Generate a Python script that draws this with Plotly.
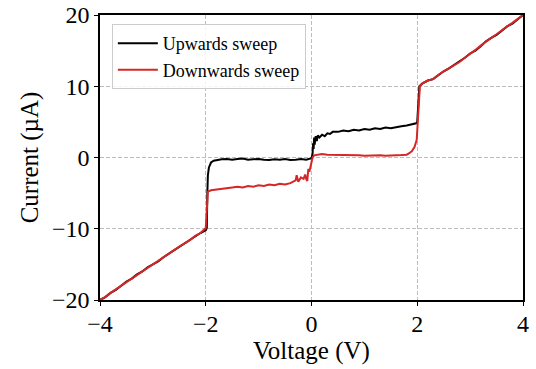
import plotly.graph_objects as go

# Upwards sweep (black)
up_v = [-4.0, -3.9, -3.8, -3.7, -3.6, -3.5, -3.4, -3.3, -3.2, -3.1, -3.0, -2.9, -2.8, -2.7, -2.6,
        -2.5, -2.4, -2.3, -2.2, -2.1, -2.0, -1.98, -1.97, -1.96, -1.94, -1.9, -1.85, -1.8, -1.7,
        -1.6, -1.5, -1.4, -1.3, -1.2, -1.1, -1.0, -0.9, -0.8, -0.7, -0.6, -0.5, -0.4, -0.3, -0.2,
        -0.1, -0.05, 0.0, 0.02, 0.03, 0.04, 0.05, 0.06, 0.08, 0.1, 0.12, 0.15, 0.2, 0.25, 0.3, 0.35,
        0.4, 0.5, 0.6, 0.7, 0.8, 0.9, 1.0, 1.1, 1.2, 1.3, 1.4, 1.5, 1.6, 1.7, 1.8, 1.9, 1.98, 2.0,
        2.02, 2.04, 2.1, 2.2, 2.3, 2.4, 2.5, 2.6, 2.7, 2.8, 2.9, 3.0, 3.1, 3.2, 3.3, 3.4, 3.5, 3.6,
        3.7, 3.8, 3.9, 4.0]
up_i = [-20.0, -19.6, -19.0, -18.6, -18.0, -17.4, -17.0, -16.4, -16.0, -15.4, -15.0, -14.6, -14.0, -13.5, -13.1,
        -12.5, -12.1, -11.6, -11.0, -10.6, -10.2, -9.9, -5.0, -2.5, -1.4, -0.7, -0.45, -0.35, -0.25,
        -0.2, -0.3, -0.2, -0.15, -0.3, -0.25, -0.2, -0.3, -0.35, -0.25, -0.3, -0.2, -0.35, -0.3, -0.2,
        -0.3, -0.2, -0.1, 0.5, 2.0, 1.2, 2.8, 1.8, 3.0, 2.3, 3.1, 2.8, 3.2, 3.0, 3.4, 3.3,
        3.6, 3.6, 3.8, 3.7, 3.9, 3.8, 4.0, 3.9, 4.1, 4.0, 4.2, 4.1, 4.3, 4.4, 4.5, 4.7, 4.8, 5.0,
        8.0, 10.0, 10.4, 10.8, 11.0, 11.6, 12.1, 12.5, 13.0, 13.4, 14.0, 14.6, 15.0, 15.6, 16.3, 16.8, 17.2, 17.8,
        18.4, 18.8, 19.4, 20.0]

# Downwards sweep (red)
down_v = [4.0, 3.9, 3.8, 3.7, 3.6, 3.5, 3.4, 3.3, 3.2, 3.1, 3.0, 2.9, 2.8, 2.7, 2.6, 2.5, 2.4, 2.3,
          2.2, 2.1, 2.05, 2.02, 1.99, 1.95, 1.9, 1.85, 1.8, 1.7, 1.6, 1.5, 1.4, 1.3, 1.2, 1.1, 1.0,
          0.9, 0.8, 0.7, 0.6, 0.5, 0.4, 0.3, 0.2, 0.15, 0.1, 0.05, 0.02, 0.0, -0.02, -0.04, -0.06,
          -0.08, -0.1, -0.12, -0.15, -0.2, -0.25, -0.28, -0.3, -0.35, -0.4, -0.5, -0.6, -0.7, -0.8,
          -0.9, -1.0, -1.1, -1.2, -1.3, -1.4, -1.5, -1.6, -1.7, -1.8, -1.9, -1.96, -1.98, -2.0, -2.1,
          -2.2, -2.3, -2.4, -2.5, -2.6, -2.7, -2.8, -2.9, -3.0, -3.1, -3.2, -3.3, -3.4, -3.5, -3.6,
          -3.7, -3.8, -3.9, -4.0]
down_i = [20.0, 19.4, 18.9, 18.4, 17.8, 17.3, 16.8, 16.3, 15.7, 15.1, 14.6, 14.0, 13.4, 13.0, 12.5, 12.1, 11.6, 11.0,
          10.8, 10.4, 10.0, 6.0, 2.5, 1.5, 0.9, 0.6, 0.4, 0.35, 0.3, 0.3, 0.25, 0.3, 0.25, 0.3, 0.25,
          0.3, 0.3, 0.35, 0.3, 0.4, 0.35, 0.4, 0.5, 0.45, 0.4, 0.3, 0.0, -0.8, -1.5, -2.0, -1.6,
          -3.3, -3.0, -2.4, -3.0, -2.8, -3.4, -2.5, -3.2, -3.4, -3.6, -3.8, -3.7, -3.9, -3.8,
          -4.0, -3.9, -4.1, -4.0, -4.2, -4.1, -4.2, -4.3, -4.3, -4.5, -4.6, -4.8, -7.0, -9.9, -10.6,
          -11.0, -11.6, -12.0, -12.5, -13.0, -13.5, -14.0, -14.5, -15.0, -15.4, -15.9, -16.4, -17.0, -17.4, -18.0,
          -18.5, -19.0, -19.6, -20.0]

x_ticks = [-4, -2, 0, 2, 4]
y_ticks = [-20, -10, 0, 10, 20]

FONT = "Liberation Serif, serif"

fig = go.Figure()
fig.add_trace(go.Scatter(x=up_v, y=up_i, mode="lines", name="Upwards sweep",
                         line=dict(color="black", width=2)))
fig.add_trace(go.Scatter(x=down_v, y=down_i, mode="lines", name="Downwards sweep",
                         line=dict(color="#d62728", width=2)))

axis_common = dict(
    showline=True, linecolor="black", linewidth=1.5, mirror=True,
    ticks="outside", ticklen=4, tickwidth=1.2, tickcolor="black",
    showgrid=True, gridcolor="#bdbdbd", griddash="4px,2px", gridwidth=1,
    zeroline=False, automargin=False,
    tickfont=dict(family=FONT, size=24, color="black"),
)

fig.update_layout(
    width=536, height=369,
    margin=dict(l=100, r=13, t=15, b=69),
    paper_bgcolor="white", plot_bgcolor="white",
    font=dict(family=FONT, color="black"),
    xaxis=dict(range=[-4, 4], tickvals=x_ticks, ticklabelstandoff=-3, **axis_common),
    yaxis=dict(range=[-20, 20], tickvals=y_ticks,
               title=dict(text="Current (µA)", font=dict(family=FONT, size=25), standoff=6),
               **axis_common),
    annotations=[dict(text="Voltage (V)", xref="paper", yref="paper", x=0.5, y=-0.178,
                      xanchor="center", yanchor="middle", showarrow=False,
                      font=dict(family=FONT, size=25, color="black"))],
    legend=dict(x=0.028, y=0.968, xanchor="left", yanchor="top",
                bgcolor="rgba(255,255,255,0.85)", bordercolor="#cccccc", borderwidth=1,
                font=dict(family=FONT, size=18, color="black"),
                tracegroupgap=0, itemwidth=40),
    showlegend=True,
)

fig.write_html("out.html")
